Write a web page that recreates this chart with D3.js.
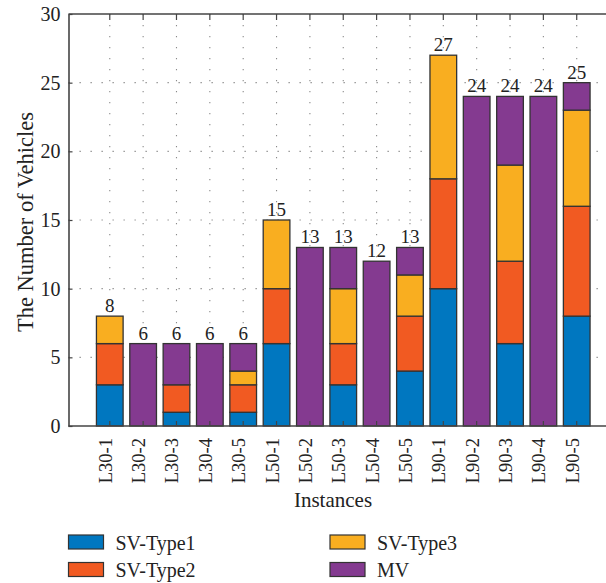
<!DOCTYPE html>
<html>
<head>
<meta charset="utf-8">
<script src="https://cdn.jsdelivr.net/npm/d3@7"></script>
<style>
  body { margin: 0; background: #fff; }
  text { font-family: "Liberation Serif", "Times New Roman", serif; fill: #222; }
</style>
</head>
<body>
<div id="chart"></div>
<script>
// chart data
var categories = ["L30-1", "L30-2", "L30-3", "L30-4", "L30-5",
                  "L50-1", "L50-2", "L50-3", "L50-4", "L50-5",
                  "L90-1", "L90-2", "L90-3", "L90-4", "L90-5"];
var svType1 = [3, 0, 1, 0, 1, 6, 0, 3, 0, 4, 10, 0, 6, 0, 8];
var svType2 = [3, 0, 2, 0, 2, 4, 0, 3, 0, 4, 8, 0, 6, 0, 8];
var svType3 = [2, 0, 0, 0, 1, 5, 0, 4, 0, 3, 9, 0, 7, 0, 7];
var mv      = [0, 6, 3, 6, 2, 0, 13, 3, 12, 2, 0, 24, 5, 24, 2];
var seriesNames = ["SV-Type1", "SV-Type2", "SV-Type3", "MV"];
var yTicks = [0, 5, 10, 15, 20, 25, 30];

var colors = ["#0077c0", "#f15a22", "#f9ae20", "#843a90"];

var W = 606, H = 583;
var plotLeft = 68.5, plotTop = 14, plotBottom = 426;

var svg = d3.select("#chart").append("svg")
  .attr("width", W).attr("height", H);

// build table rows for the stack
var rows = categories.map(function (c, i) {
  return { cat: c, "SV-Type1": svType1[i], "SV-Type2": svType2[i], "SV-Type3": svType3[i], "MV": mv[i] };
});
var stacked = d3.stack().keys(seriesNames)(rows);

var x = d3.scaleBand()
  .domain(categories)
  .range([93.1, 593.4])
  .paddingInner(0.2)
  .paddingOuter(0.1);
var y = d3.scaleLinear().domain([0, 30]).range([plotBottom, plotTop]);

// grid
var grid = svg.append("g").attr("stroke", "#8a8a8a").attr("stroke-width", 1.1)
  .attr("stroke-dasharray", "1.3,9.7");
grid.selectAll(".hg").data(yTicks.slice(1, -1)).enter().append("line")
  .attr("x1", plotLeft).attr("x2", W)
  .attr("y1", function (d) { return y(d); })
  .attr("y2", function (d) { return y(d); });
grid.selectAll(".vg").data(categories).enter().append("line")
  .attr("x1", function (d) { return x(d) + x.bandwidth() / 2; })
  .attr("x2", function (d) { return x(d) + x.bandwidth() / 2; })
  .attr("y1", plotTop).attr("y2", plotBottom);

// bars
svg.append("g").selectAll("g").data(stacked).enter().append("g")
  .attr("fill", function (d, i) { return colors[i]; })
  .selectAll("rect")
  .data(function (d) { return d.filter(function (s) { return s[1] - s[0] > 0; }); })
  .enter().append("rect")
  .attr("x", function (d) { return x(d.data.cat); })
  .attr("y", function (d) { return y(d[1]); })
  .attr("width", x.bandwidth())
  .attr("height", function (d) { return y(d[0]) - y(d[1]); })
  .attr("stroke", "#333")
  .attr("stroke-width", 1.3);

// totals above bars
svg.append("g").selectAll("text").data(rows).enter().append("text")
  .attr("x", function (d) { return x(d.cat) + x.bandwidth() / 2; })
  .attr("y", function (d) { return y(d["SV-Type1"] + d["SV-Type2"] + d["SV-Type3"] + d["MV"]) - 4; })
  .attr("text-anchor", "middle")
  .style("font-size", "19px")
  .text(function (d) { return d["SV-Type1"] + d["SV-Type2"] + d["SV-Type3"] + d["MV"]; });

// x axis (bottom)
var xAxis = svg.append("g")
  .attr("transform", "translate(0," + plotBottom + ")")
  .call(d3.axisBottom(x).tickSize(-5).tickSizeOuter(0));
xAxis.select(".domain").attr("d", "M" + plotLeft + ",0H" + (W + 10)).attr("stroke", "#444").attr("stroke-width", 1.6);
xAxis.selectAll(".tick line").attr("stroke", "#444").attr("stroke-width", 1.2);
xAxis.selectAll(".tick text")
  .attr("x", 0).attr("y", 0).attr("dy", null)
  .attr("transform", "translate(2,12) rotate(-90)")
  .attr("text-anchor", "end")
  .style("font-size", "18.5px");

// top border
var topAxis = svg.append("g")
  .attr("transform", "translate(0," + plotTop + ")")
  .call(d3.axisTop(x).tickSize(-6).tickSizeOuter(0).tickFormat(""));
topAxis.select(".domain").attr("d", "M" + plotLeft + ",0H" + (W + 10)).attr("stroke", "#444").attr("stroke-width", 1.6);
topAxis.selectAll(".tick line").attr("stroke", "#444").attr("stroke-width", 1.2);

// y axis
var yAxis = svg.append("g")
  .attr("transform", "translate(" + plotLeft + ",0)")
  .call(d3.axisLeft(y).tickValues(yTicks).tickSize(-4).tickSizeOuter(0).tickPadding(8));
yAxis.select(".domain").attr("stroke", "#444").attr("stroke-width", 1.6);
yAxis.selectAll(".tick line").attr("stroke", "#444").attr("stroke-width", 1.2);
yAxis.selectAll(".tick text").style("font-size", "20px").attr("dy", "0.33em");

// axis titles
svg.append("text")
  .attr("x", 333).attr("y", 507)
  .attr("text-anchor", "middle")
  .style("font-size", "21px")
  .text("Instances");
svg.append("text")
  .attr("transform", "translate(33,222) rotate(-90)")
  .attr("text-anchor", "middle")
  .style("font-size", "22.5px")
  .text("The Number of Vehicles");

// legend
var legendPos = [[68.5, 535], [68.5, 562.5], [330, 535], [330, 562.5]];
var legend = svg.append("g").selectAll("g").data(seriesNames).enter().append("g")
  .attr("transform", function (d, i) { return "translate(" + legendPos[i][0] + "," + legendPos[i][1] + ")"; });
legend.append("rect")
  .attr("width", 35).attr("height", 14)
  .attr("fill", function (d, i) { return colors[i]; })
  .attr("stroke", "#333").attr("stroke-width", 1.2);
legend.append("text")
  .attr("x", 47).attr("y", 14.5)
  .style("font-size", "20px")
  .text(function (d) { return d; });
</script>
</body>
</html>
